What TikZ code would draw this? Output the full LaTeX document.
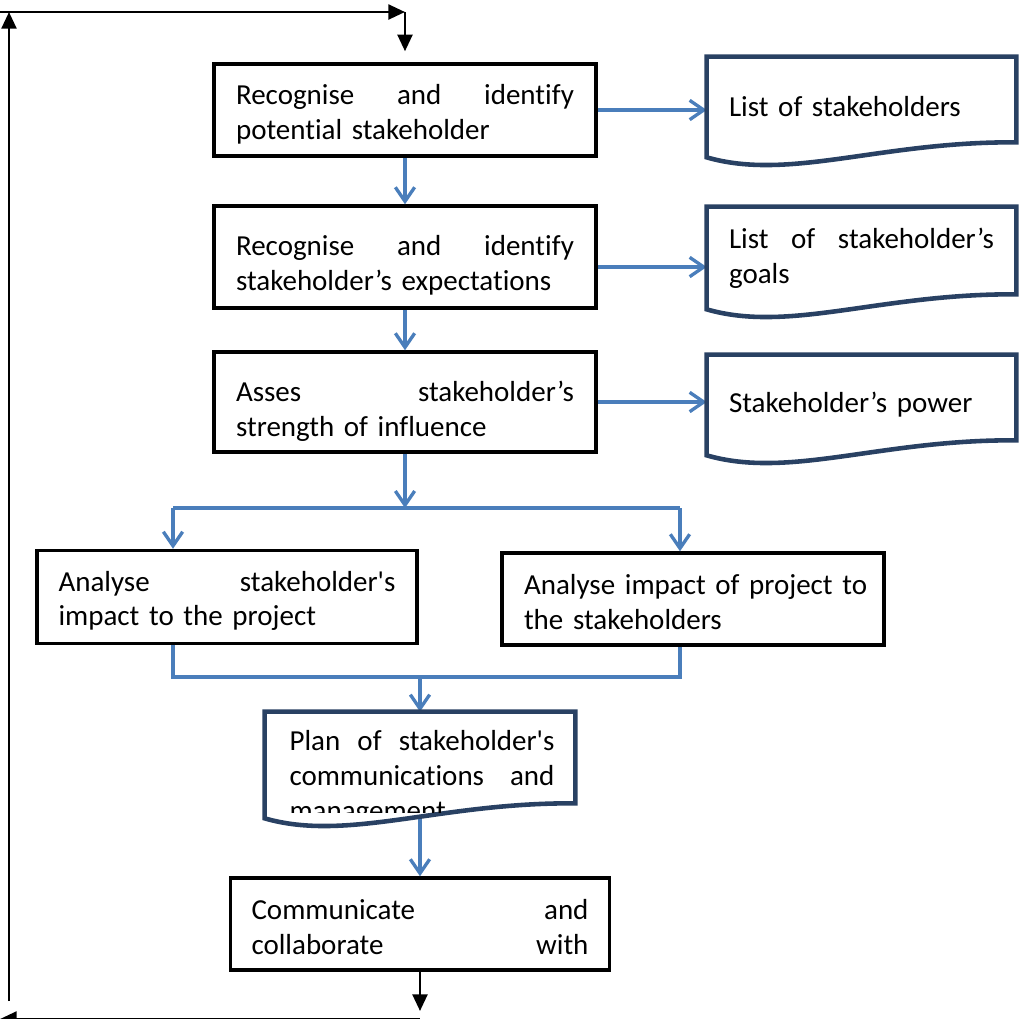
\documentclass[tikz,border=0pt]{standalone}
\usepackage{fontspec}
\newfontfamily\boxfont{Carlito}[Ligatures=NoCommon]
\usetikzlibrary{arrows.meta,calc}
\definecolor{flowblue}{HTML}{4A7EBB}
\definecolor{docblue}{HTML}{294163}
\tikzset{
  boxtext/.style={font=\boxfont\fontsize{16.5}{19.8}\selectfont, align=left, inner xsep=0pt, inner ysep=0pt},
  procbox/.style={boxtext, draw=black, line width=2pt, fill=white, rectangle},
  docregion/.style={boxtext, rectangle, draw=none, minimum width=6.18cm},
  docline/.style={draw=docblue, line width=2.6pt},
  flowline/.style={draw=flowblue, line width=1.9pt},
  flow/.style={flowline, -{Straight Barb[length=8pt,width=11pt]}},
  retline/.style={draw=black, line width=1.5pt},
  ret/.style={retline, -{Triangle[length=9.5pt,width=8.5pt]}},
}
% taller first line, which lowers the text block inside its box
\newcommand\drop[1]{\raisebox{#1}{\vphantom{dR}}}
% outline of a document symbol around a node: straight top and sides, wavy bottom
\newcommand\wavydoc[2][]{%
  \draw[docline,#1] (#2.south west) -- (#2.north west) -- (#2.north east)
    -- ($(#2.south east)+(0,-15)$)
    .. controls ($(#2.south east)+(-136,-16)$) and ($(#2.south west)+(83,24)$) .. (#2.south west)
    -- cycle;}
\begin{document}
\begin{tikzpicture}[x=0.02cm,y=-0.02cm]
\useasboundingbox (0,0) rectangle (1019,1019);

% process steps
\node[procbox, minimum width=7.64cm, minimum height=1.84cm, text width=6.76cm] (b1) at (405,110)
  {\drop{4.5pt}Recognise\hfill and\hfill identify\\potential stakeholder};
\node[procbox, minimum width=7.64cm, minimum height=2.04cm, text width=6.76cm] (b2) at (405,257)
  {\drop{9pt}Recognise\hfill and\hfill identify\\stakeholder’s expectations};
\node[procbox, minimum width=7.64cm, minimum height=2.0cm, text width=6.76cm] (b3) at (405,402)
  {\drop{11pt}Asses\hfill stakeholder’s\\strength of influence};
\node[procbox, minimum width=7.6cm, minimum height=1.86cm, text width=6.74cm] (b4) at (227,597)
  {\drop{4.5pt}Analyse\hfill stakeholder's\\impact to the project};
\node[procbox, minimum width=7.64cm, minimum height=1.84cm, text width=6.76cm] (b5) at (693,599)
  {\drop{3.4pt}\mbox{Analyse impact of project to}\\the stakeholders};
\node[procbox, minimum width=7.58cm, minimum height=1.84cm, text width=6.74cm] (b6) at (420,924)
  {\drop{3.4pt}Communicate\hfill and\\collaborate\hfill with};

% document outputs
\node[docregion, minimum height=2.0cm, text width=5.3cm] (d1) at (861.5,107) {List of stakeholders};
\node[docregion, minimum height=2.04cm, text width=5.3cm] (d2) at (861.5,258) {List\hfill of\hfill stakeholder’s\\goals};
\node[docregion, minimum height=2.0cm, text width=5.3cm] (d3) at (861.5,405) {Stakeholder’s power};
\node[docregion, minimum width=6.2cm, minimum height=2.12cm] (p) at (420,765) {};

% junction points
\coordinate (jl) at (173,508);
\coordinate (jr) at (680,508);
\coordinate (ml) at (173,677);
\coordinate (mr) at (680,677);

% main flow
\draw[flow] (b1.east) -- (b1.east -| d1.west);
\draw[flow] (b1.south) -- (b2.north);
\draw[flow] ($(b2.east)+(0,10)$) -- ($(b2.east -| d2.west)+(0,10)$);
\draw[flow] (b2.south) -- (b3.north);
\draw[flow] (b3.east) -- (b3.east -| d3.west);
\draw[flow] (b3.south) -- (b3.south |- jl);
\draw[flowline] (jl) -- (jr);
\draw[flow] (jl) -- (jl |- b4.north);
\draw[flow] (jr) -- (jr |- b5.north);
\draw[flowline] (jl |- b4.south) -- (ml) -- (mr) -- (jr |- b5.south);
\draw[flow] (p.north |- ml) -- (p.north);
\draw[flow] (p.center) -- (b6.north);

% feedback loop
\coordinate (bo) at (420,1011);
\coordinate (bl) at (0,1019);
\coordinate (lb) at (9,1001);
\coordinate (lt) at (9,12);
\coordinate (tl) at (0,12);
\coordinate (tr) at (405,12);
\draw[ret] (b6.south) -- (b6.south |- bo);
\draw[ret] (b6.south |- bl) -- (bl);
\draw[ret] (lb) -- (lt);
\draw[ret] (tl) -- (tr);
\draw[ret] (tr) -- ($(b1.north)+(0,-11)$);

% document outlines
\wavydoc{d1}
\wavydoc{d2}
\wavydoc{d3}
\wavydoc[fill=white]{p}

% plan text, cut off by the wavy lower edge
\begin{scope}
  \clip (267,700) rectangle (577,812);
  \node[boxtext, text width=5.3cm] (pt) at (422,778)
    {Plan\hfill of\hfill stakeholder's\\communications\hfill and\\management};
\end{scope}
\end{tikzpicture}
\end{document}
